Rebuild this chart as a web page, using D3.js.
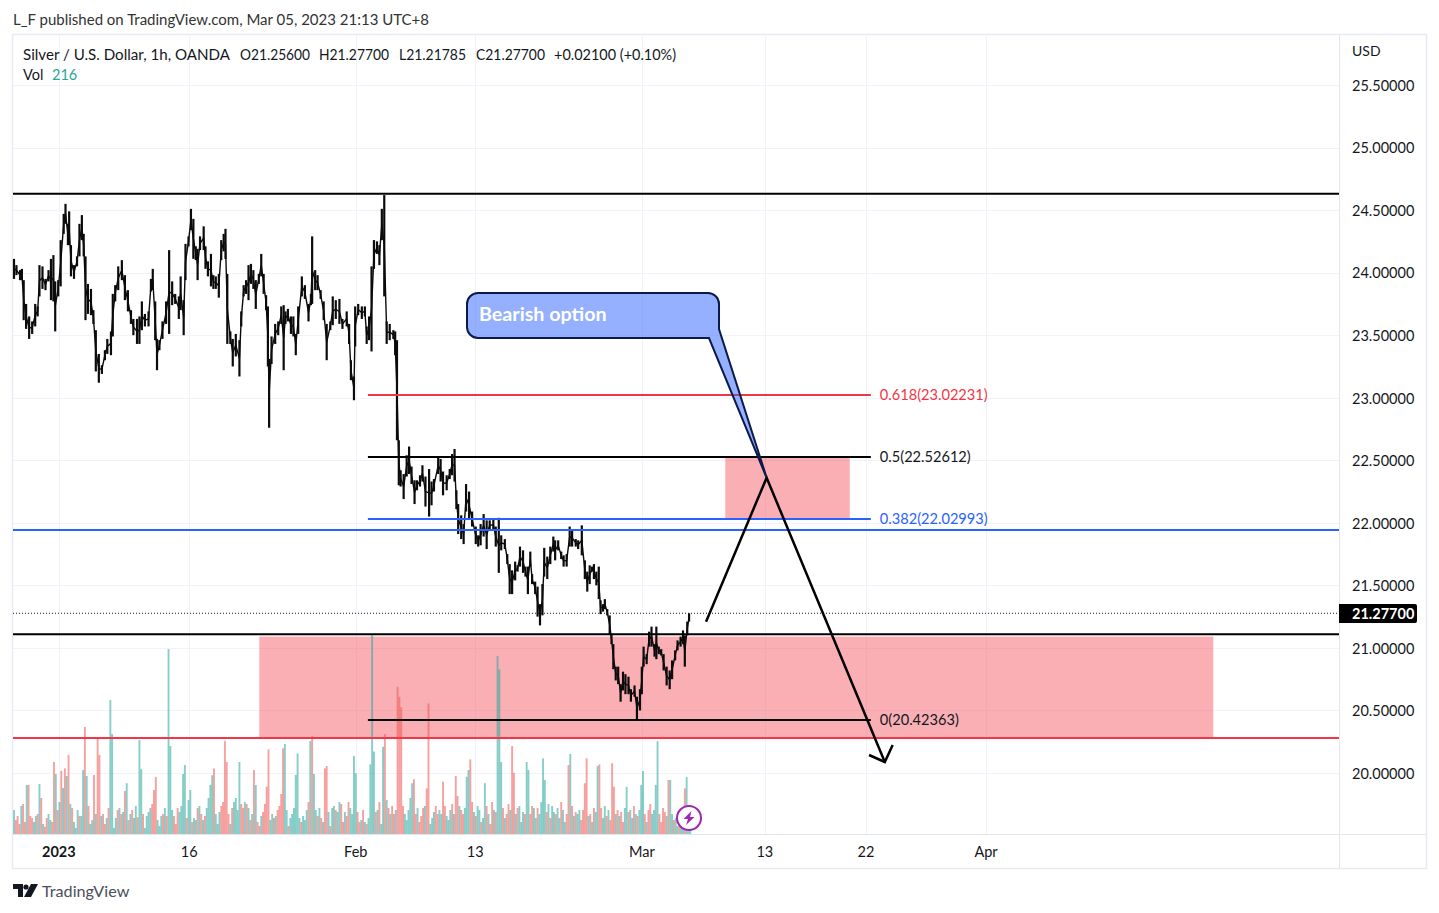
<!DOCTYPE html>
<html><head><meta charset="utf-8">
<script src="https://cdn.jsdelivr.net/npm/d3@7"></script>
<style>html,body{margin:0;padding:0;background:#fff}svg{display:block}text{font-family:Lato,"Open Sans",sans-serif}</style>
</head><body><svg id="c" width="1439" height="913"></svg>
<script>
// Hour index of each sampled bar (trading hours since the left edge of the chart)
const barHour=[0,4,10,13,16,20,25,30,35,39,42,47,52,57,61,65,68,73,77,82,85,89,91,94,99,104,108,112,115,118,122,127,131,135,140,145,150,154,160,163,167,172,178,183,188,193,197,203,207,211,216,222,226,229,233,236,240,245,251,256,261,266,272,275,280,283,288,292,296,300,303,307,313,316,320,325,329,333,338,342,346,349,352,357,361,366,372,375,379,383,387,391,395,399,404,408,412,416,419,421,425,431,436,441,445,448,452,457,461,465,469,475,480,486,490,492,497,501,506,511,516,522,526,531,537,542,549,553,556,561,563,568,574,579,582,586,590,594,599,603,607,611,615,620,626,629,
632,635,638,643,648,652,656,661,665,670,674,679,685,689,693,700,704,708,714,719,723,727,730,733,738,742,746,751,756,762,766,770,775,780,785,791,795,800,804,810,814,818,822,827,831,835,840,844,848,852,855,860,864,868,872,875,880,885,890,893,898,903,907,912,917,921,927,931,937,942,946,950,954,957,961,965,968,972,975,979,983,986,989,993,997,1001,1005,1009,1014,1018,1024,1028,1033,1036,1039,1044,1048,1052,1057,1060,1064,1068,1072,1077,1082,1086,1091,1095,1100,1104,1107,1111,1114];
const barHigh=[24.11,24.06,24.02,24.03,23.94,23.75,23.65,23.61,23.75,23.73,24.06,24.05,23.95,24.02,24.11,24.14,23.93,23.94,24.26,24.47,24.55,24.39,24.49,24.22,24.06,24.13,24.39,24.46,24.31,24.13,23.91,23.87,23.70,23.54,23.35,23.26,23.38,23.47,23.53,23.83,23.90,24.05,24.10,23.98,23.86,23.70,23.63,23.63,23.65,23.77,23.67,23.69,23.95,24.03,23.77,23.47,23.46,23.61,23.77,24.18,23.93,23.83,23.81,23.97,23.78,24.23,24.29,24.51,24.43,24.21,24.19,24.29,24.37,24.21,24.09,24.15,23.98,23.97,23.99,24.26,24.31,24.35,23.99,23.53,23.47,23.51,23.46,23.69,23.90,23.94,24.06,24.07,24.02,23.94,23.99,24.15,23.99,23.82,23.73,23.31,23.49,23.59,23.61,23.73,23.74,23.69,23.71,23.65,23.65,23.51,23.73,23.97,23.90,23.75,23.83,24.29,24.02,23.98,23.86,23.77,23.59,23.61,23.81,23.78,23.79,23.63,23.69,23.59,23.30,23.17,23.73,23.75,23.73,23.73,23.57,23.65,24.05,24.26,24.25,24.22,24.51,24.62,23.61,23.59,23.54,23.53,
23.46,22.66,22.42,22.39,22.54,22.61,22.45,22.34,22.34,22.38,22.46,22.37,22.43,22.33,22.35,22.53,22.51,22.41,22.38,22.43,22.55,22.59,22.26,22.15,22.06,21.99,22.31,22.25,22.09,21.97,21.90,21.99,22.07,22.02,22.02,22.03,21.97,22.04,21.90,21.87,21.75,21.67,21.62,21.69,21.66,21.81,21.78,21.65,21.65,21.77,21.59,21.53,21.49,21.35,21.51,21.80,21.73,21.81,21.89,21.86,21.86,21.77,21.74,21.75,21.97,21.95,21.87,21.86,21.98,21.70,21.61,21.66,21.65,21.67,21.61,21.65,21.38,21.35,21.39,21.31,21.26,21.11,21.03,20.85,20.85,20.71,20.81,20.79,20.77,20.67,20.70,20.61,20.67,20.85,21.01,20.95,21.13,21.17,21.03,21.17,21.01,20.99,20.95,20.85,20.82,20.90,20.98,21.06,21.09,21.14,21.10,21.21,21.277];
const barLow=[23.95,23.98,23.94,23.94,23.62,23.55,23.47,23.51,23.57,23.65,23.81,23.87,23.86,23.93,23.78,23.77,23.53,23.81,23.89,24.31,24.39,24.22,24.22,23.97,23.95,24.05,24.13,24.26,24.13,23.62,23.67,23.66,23.59,23.21,23.12,23.19,23.30,23.35,23.34,23.49,23.77,23.86,23.94,23.78,23.69,23.59,23.50,23.43,23.43,23.54,23.57,23.57,23.85,23.86,23.46,23.22,23.38,23.47,23.59,23.51,23.74,23.75,23.63,23.70,23.50,23.94,24.21,24.34,24.11,24.10,23.94,24.18,24.18,24.03,23.97,23.89,23.87,23.87,23.80,24.10,24.17,24.11,23.43,23.43,23.25,23.33,23.17,23.57,23.81,23.83,23.78,23.91,23.87,23.71,23.91,23.97,23.83,23.70,23.25,22.76,23.27,23.43,23.50,23.59,23.22,23.59,23.61,23.51,23.49,23.34,23.51,23.81,23.79,23.61,23.74,23.75,23.86,23.86,23.79,23.62,23.30,23.54,23.58,23.63,23.59,23.55,23.57,23.43,23.14,22.98,23.41,23.66,23.63,23.65,23.43,23.46,23.37,24.03,24.15,24.06,24.26,23.81,23.43,23.46,23.47,23.34,
22.66,22.30,22.29,22.19,22.37,22.39,22.31,22.15,22.26,22.29,22.33,22.13,22.05,22.14,22.25,22.39,22.33,22.22,22.26,22.35,22.38,22.33,22.11,21.91,21.87,21.83,22.09,22.03,21.97,21.83,21.81,21.82,21.89,21.79,21.94,21.94,21.81,21.60,21.78,21.79,21.67,21.43,21.43,21.54,21.61,21.65,21.60,21.57,21.43,21.65,21.51,21.43,21.25,21.18,21.26,21.57,21.55,21.67,21.77,21.70,21.78,21.71,21.65,21.65,21.81,21.81,21.81,21.79,21.74,21.55,21.45,21.51,21.61,21.55,21.50,21.39,21.27,21.29,21.31,21.26,21.11,21.03,20.83,20.74,20.71,20.57,20.66,20.63,20.63,20.57,20.61,20.43,20.50,20.63,20.85,20.87,21.01,21.01,20.93,20.91,20.95,20.94,20.82,20.70,20.67,20.75,20.90,20.98,21.01,21.03,20.85,21.10,21.21];
// Volume per three-hour sample; sign gives direction (+ up, - down)
const volHourStep=3;
const volSigned=[600,-350,-450,-250,700,-750,-300,1225,-1230,-450,
-400,300,450,-500,1250,-900,250,-180,-400,500,
350,-300,-1800,1500,-600,800,-1580,1150,-1640,1450,
-1975,750,-650,300,150,600,-450,450,1600,-2675,
1450,-700,250,350,-1475,500,-2390,-1975,450,-500,
-250,400,-650,3350,2500,150,400,-600,650,-500,
550,-1075,1270,-350,500,-600,400,700,-420,2350,
1620,-500,150,450,550,650,-750,-1100,-1430,350,
200,450,-500,650,-450,4625,2200,600,-450,-250,
-650,550,700,1500,1725,-400,850,1100,-300,400,
350,-650,700,-500,350,-450,650,900,1230,1470,
-1640,500,250,550,-700,-800,-2325,-1800,-500,250,
-650,800,900,600,1800,-750,-650,800,-750,650,
-350,500,-1600,1225,-300,-200,450,-550,-750,-1180,
-2115,350,500,-400,450,-600,-700,-1000,-2140,2250,
600,-200,400,500,650,1475,2015,400,-300,450,
350,600,-800,2325,-2450,1500,600,-450,650,-400,
300,-1640,-1700,550,-200,650,700,-600,550,800,
-750,-300,550,-450,-800,650,500,1950,1520,-550,
-300,350,-600,300,-250,400,1740,5000,2060,-550,
600,-800,250,2180,-2500,850,-650,500,-700,-500,
600,-3680,-3430,-3165,-700,500,350,600,900,1270,
-1370,-500,650,-300,-450,-650,700,-1140,-3265,250,
400,550,-700,-500,600,500,-1310,-700,450,350,
600,-750,500,-1450,-950,700,-600,-500,650,1430,
1600,-1865,-800,550,-450,700,600,-300,400,1270,
-700,500,-250,-800,600,-550,4450,4115,1800,-650,
400,-500,-750,600,-2200,-1530,500,-650,700,300,
550,-500,1800,1600,-500,-700,650,400,-650,500,
800,1890,1350,-550,750,-400,700,550,-500,650,
400,-800,600,300,-500,-1725,2000,-700,450,-550,
500,600,-350,-600,-1270,-1890,450,-500,300,-650,
550,1700,-1740,-650,400,700,-450,600,-350,-1770,
-1180,500,-600,450,-550,-300,650,1180,-550,600,
400,-700,500,-450,600,1225,1575,-500,300,-600,
-750,500,600,1225,2325,-500,-300,-650,-550,450,
-1350,1350,500,-350,400,200,-300,180,150,-1140,
1425,120,216];
const priceTicks=[25.5,25,24.5,24,23.5,23,22.5,22,21.5,21,20.5,20];
const timeTickHours=[74,289,564,761,1036,1239,1406,1604];
const timeTickLabels=["2023","16","Feb","13","Mar","13","22","Apr"];
const lastClose=21.277;
const hLevels=[{p:24.63,c:"#000000"},{p:21.943,c:"#2962ff"},{p:21.11,c:"#000000"},{p:20.28,c:"#f23645"}];
const fibLevels=[{p:23.02231,l:"0.618(23.02231)",c:"#f23645"},{p:22.52612,l:"0.5(22.52612)",c:"#131722"},{p:22.02993,l:"0.382(22.02993)",c:"#2962ff"},{p:20.42363,l:"0(20.42363)",c:"#131722"}];
const fibHours=[584,1414];
const zones=[{h0:404,h1:1980,p0:21.095,p1:20.28},{h0:1173,h1:1380,p0:22.526,p1:22.03}];
const scenario=[[1142,21.21],[1242,22.36],[1437,20.088]];
const arrowBarbs=[[1411,20.144],[1450,20.224]];
const legendItems=["Silver / U.S. Dollar, 1h, OANDA","O21.25600","H21.27700","L21.21785","C21.27700","+0.02100 (+0.10%)"];
const legendStart=[23,240,319,399,476,554];
const legendWidth=[207,70,70,67,69,122];

const svg=d3.select("#c");
const x=d3.scaleLinear().domain([0,1604]).range([14,986]);
const y=d3.scaleLinear().domain([20,25.5]).range([773,85]);
const vol=d3.scaleLinear().domain([0,5000]).range([834,634]);
const L=13,R=1339,T=35,B=834,OR=1426,OB=868;

// grid
const grid=svg.append("g").attr("stroke","#f0f3fa").attr("stroke-width",1);
grid.selectAll(".gh").data(priceTicks).join("line").attr("x1",L).attr("x2",R).attr("y1",d=>Math.round(y(d))+.5).attr("y2",d=>Math.round(y(d))+.5);
grid.selectAll(".gv").data(timeTickHours).join("line").attr("y1",T).attr("y2",B).attr("x1",d=>Math.round(x(d))+.5).attr("x2",d=>Math.round(x(d))+.5);
// frame
svg.append("rect").attr("x",12.5).attr("y",34.5).attr("width",OR-12).attr("height",OB-34).attr("fill","none").attr("stroke","#e9ebf2").attr("stroke-width",1.5);
svg.append("line").attr("x1",R+.5).attr("x2",R+.5).attr("y1",T).attr("y2",OB).attr("stroke","#e4e6ee");
svg.append("line").attr("x1",L).attr("x2",OR).attr("y1",B+.5).attr("y2",B+.5).attr("stroke","#e4e6ee");

// zones sit under the series
svg.append("g").selectAll("rect").data(zones).join("rect")
 .attr("x",d=>x(d.h0)).attr("width",d=>x(d.h1)-x(d.h0)).attr("y",d=>y(d.p0)).attr("height",d=>y(d.p1)-y(d.p0))
 .attr("fill","rgba(242,54,69,.4)").attr("stroke","#ffffff").attr("stroke-width",1);

// volume
svg.append("g").selectAll("rect").data(volSigned).join("rect")
 .attr("x",(d,i)=>x(i*volHourStep)-.95).attr("width",1.9)
 .attr("y",d=>vol(Math.abs(d))).attr("height",d=>vol(0)-vol(Math.abs(d)))
 .attr("fill",d=>d>=0?"rgba(38,166,154,.55)":"rgba(239,83,80,.55)");

// price bars
const bars=barHour.map((h,i)=>({h,hi:barHigh[i],lo:barLow[i]}));
svg.append("path").attr("fill","none").attr("stroke","#0b0b0b").attr("stroke-width",1.4)
 .attr("d",d3.line().x(d=>x(d.h)).y(d=>y((d.hi+d.lo)/2))(bars));
svg.append("g").selectAll("line").data(bars).join("line")
 .attr("x1",d=>x(d.h)).attr("x2",d=>x(d.h)).attr("y1",d=>y(d.hi)).attr("y2",d=>y(d.lo))
 .attr("stroke","#0b0b0b").attr("stroke-width",2.2);

// horizontal levels
svg.append("line").attr("x1",L).attr("x2",R).attr("y1",y(lastClose)).attr("y2",y(lastClose)).attr("stroke","#131722").attr("stroke-dasharray","1 2");
svg.append("g").selectAll("line").data(hLevels).join("line").attr("x1",L).attr("x2",R).attr("y1",d=>y(d.p)).attr("y2",d=>y(d.p)).attr("stroke",d=>d.c).attr("stroke-width",2);
// fib
const fg=svg.append("g");
fg.selectAll("line").data(fibLevels).join("line").attr("x1",x(fibHours[0])).attr("x2",x(fibHours[1])).attr("y1",d=>y(d.p)).attr("y2",d=>y(d.p)).attr("stroke",d=>d.c==="#131722"?"#000":d.c).attr("stroke-width",2);
fg.selectAll("text").data(fibLevels).join("text").attr("x",x(fibHours[1])+9).attr("y",d=>y(d.p)+5).attr("fill",d=>d.c).attr("font-size",14.6).text(d=>d.l);
// scenario arrow
const ln=d3.line().x(d=>x(d[0])).y(d=>y(d[1]));
svg.append("path").attr("d",ln(scenario)).attr("fill","none").attr("stroke","#000").attr("stroke-width",2.5);
svg.append("path").attr("d",ln([arrowBarbs[0],scenario[2],arrowBarbs[1]])).attr("fill","none").attr("stroke","#000").attr("stroke-width",2.5);
// callout
const cx0=467,cx1=719,cy0=293,cy1=338,r=11,tip=[x(scenario[1][0]),y(scenario[1][1])];
svg.append("path").attr("d",`M${cx0+r},${cy0}H${cx1-r}A${r},${r} 0 0 1 ${cx1},${cy0+r}V${cy1-9}L${tip[0]},${tip[1]}L${cx1-10},${cy1}H${cx0+r}A${r},${r} 0 0 1 ${cx0},${cy1-r}V${cy0+r}A${r},${r} 0 0 1 ${cx0+r},${cy0}Z`)
 .attr("fill","rgba(41,98,255,.5)").attr("stroke","#0b1a4a").attr("stroke-width",2);
svg.append("text").attr("x",479).attr("y",321).attr("fill","#fff").attr("font-size",19.7).attr("font-weight",700).text("Bearish option");

// axes
const ya=d3.axisRight(y).tickValues(priceTicks).tickSize(0).tickPadding(0).tickFormat(d=>d.toFixed(5));
const yg=svg.append("g").attr("transform","translate(1352,0.7)").call(ya);
yg.select(".domain").remove();
yg.selectAll("text").attr("fill","#131722").attr("font-size",14.5).attr("font-family","Lato,sans-serif");
const xa=d3.axisBottom(x).tickValues(timeTickHours).tickSize(0).tickPadding(0).tickFormat((d,i)=>timeTickLabels[i]);
const xg=svg.append("g").attr("transform","translate(-0.5,847)").call(xa);
xg.select(".domain").remove();
xg.selectAll("text").attr("fill","#131722").attr("font-size",14.5).attr("font-family","Lato,sans-serif").attr("font-weight",(d,i)=>i==0?700:400);
svg.append("text").attr("x",1352).attr("y",56).attr("fill","#131722").attr("font-size",14).text("USD");
// last price
svg.append("path").attr("d",`M1339,604H1415q2,0 2,2V621q0,2 -2,2H1339Z`).attr("fill","#000");
svg.append("text").attr("x",1352).attr("y",y(lastClose)+5.5).attr("fill","#fff").attr("font-size",14.5).attr("font-weight",700).text(lastClose.toFixed(5));

// header text
const t=(s,xx,yy,f,fs,w)=>{const e=svg.append("text").attr("x",xx).attr("y",yy).attr("fill",f).attr("font-size",fs).text(s).style("white-space","pre");if(w)e.attr("textLength",w).attr("lengthAdjust","spacingAndGlyphs");return e};
t("L_F published on TradingView.com, Mar 05, 2023 21:13 UTC+8",13,25,"#333",14.5,416);
legendItems.forEach((s,i)=>t(s,legendStart[i],59.5,"#131722",14.5,legendWidth[i]));
t("Vol",23,80,"#131722",14.5);
t("216",52,80,"#26a69a",14.5);

// lightning badge
const b=svg.append("g").attr("transform","translate(689,818)");
b.append("circle").attr("r",12).attr("fill","#fff").attr("stroke","#9c27b0").attr("stroke-width",2);
b.append("path").attr("d","M2.5,-7L-5.5,1H-1L-3,7L5.5,-1H1Z").attr("fill","#9c27b0");

// logo
const g=svg.append("g").attr("transform","translate(13,884)").attr("fill","#131722");
g.append("path").attr("d","M0,0H10V13H5V5H0Z");
g.append("circle").attr("cx",13).attr("cy",3).attr("r",2.6);
g.append("path").attr("d","M18,0H25L18,13H11Z");
svg.append("text").attr("x",42).attr("y",897).attr("fill","#4a4f5c").attr("font-size",16.2).text("TradingView");
</script></body></html>
